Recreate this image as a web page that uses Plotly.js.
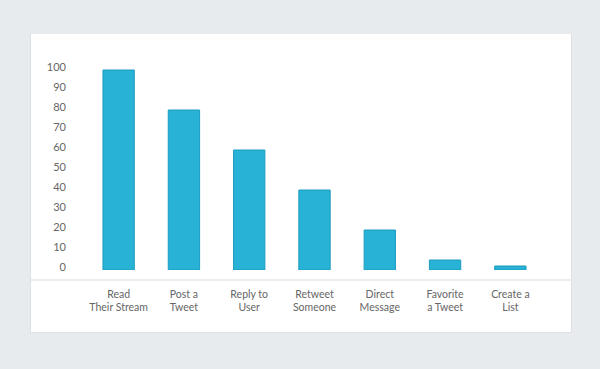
<!DOCTYPE html>
<html>
<head>
<meta charset="utf-8">
<script src="https://cdn.plot.ly/plotly-3.0.1.min.js"></script>
<style>
  html, body { margin: 0; padding: 0; background: #e8ebee; }
  #chart { width: 600px; height: 369px; }
</style>
</head>
<body>
<div id="chart"></div>
<script>
const categories = ["Read<br>Their Stream", "Post a<br>Tweet", "Reply to<br>User", "Retweet<br>Someone", "Direct<br>Message", "Favorite<br>a Tweet", "Create a<br>List"];
const values = [100, 80, 60, 40, 20, 5, 2];
const yTicks = [0, 10, 20, 30, 40, 50, 60, 70, 80, 90, 100];

const W = 600, H = 369;
const M = { l: 86, r: 57, t: 50, b: 99 };
const pw = W - M.l - M.r, ph = H - M.t - M.b;
const px = x => (x - M.l) / pw;
const py = y => (H - M.b - y) / ph;

const trace = {
  type: 'bar',
  x: categories,
  y: values,
  width: 0.48,
  marker: { color: '#27b2d6', line: { color: '#1c9cc0', width: 1 } },
  hoverinfo: 'none'
};

const layout = {
  width: W, height: H,
  margin: M,
  paper_bgcolor: '#e8ebee',
  plot_bgcolor: 'rgba(0,0,0,0)',
  showlegend: false,
  font: { family: 'Lato, "Open Sans", sans-serif', size: 11, color: '#666' },
  xaxis: {
    type: 'category',
    range: [-0.5, 6.5],
    showgrid: false, zeroline: false, showline: false,
    ticks: '',
    ticklabelstandoff: 16,
    tickfont: { size: 10.5, color: '#666' }
  },
  yaxis: {
    range: [0, 110],
    tickvals: yTicks,
    ticktext: yTicks.map(String),
    showgrid: false, zeroline: false, showline: false,
    ticks: '',
    ticklabelstandoff: 19,
    ticklabelshift: -3,
    tickfont: { size: 11, color: '#666' }
  },
  shapes: [
    { type: 'rect', xref: 'paper', yref: 'paper', layer: 'below',
      x0: px(30), x1: px(572), y0: py(333), y1: py(34),
      fillcolor: '#dde1e5', line: { width: 0 } },
    { type: 'rect', xref: 'paper', yref: 'paper', layer: 'below',
      x0: px(31), x1: px(571), y0: py(332), y1: py(34),
      fillcolor: '#ffffff', line: { width: 0 } },
    { type: 'line', xref: 'paper', yref: 'paper', layer: 'below',
      x0: px(31), x1: px(571), y0: py(280), y1: py(280),
      line: { color: '#e3e6e9', width: 1.5 } }
  ]
};

Plotly.newPlot('chart', [trace], layout, { displayModeBar: false, staticPlot: true });
</script>
</body>
</html>
